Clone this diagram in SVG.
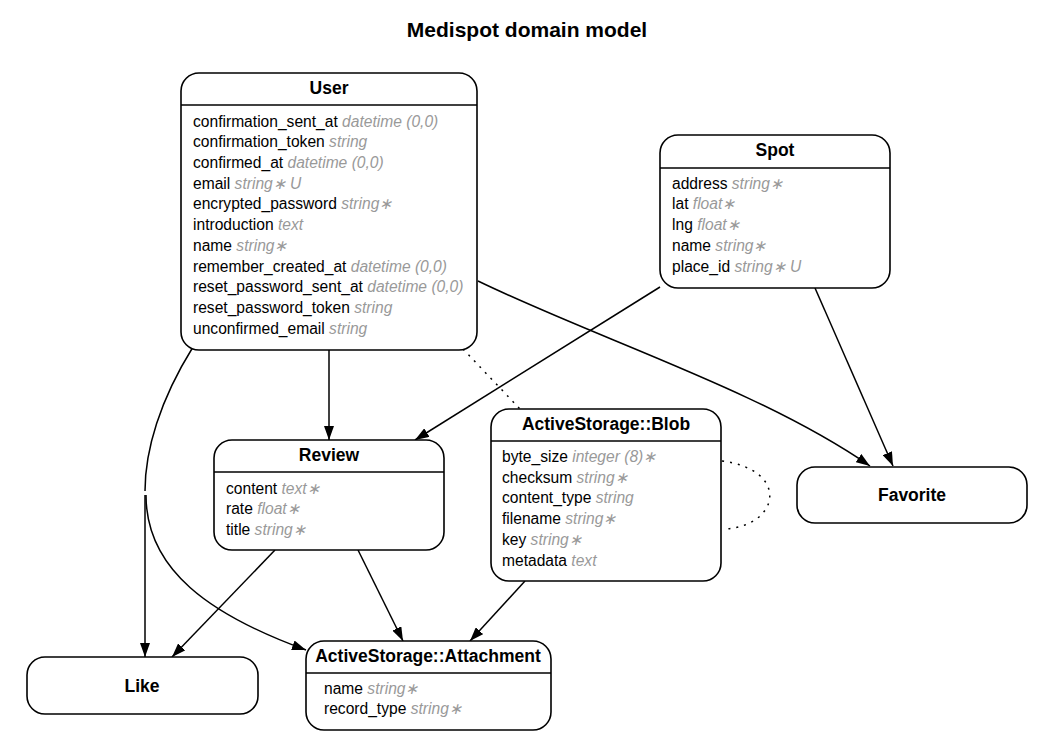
<svg xmlns="http://www.w3.org/2000/svg" width="1056" height="748" viewBox="0 0 1056 748">
<defs>
<style>
.box{fill:#fff;stroke:#000;stroke-width:1.6}
.sep{stroke:#000;stroke-width:1.3}
.ttl{font-family:"Liberation Sans",Arial,sans-serif;font-weight:bold;font-size:17.5px;text-anchor:middle;fill:#000}
.row{font-family:"Liberation Sans",Arial,sans-serif;font-size:15.6px;fill:#000}
.t{font-style:italic;fill:#999}
.e{fill:none;stroke:#000;stroke-width:1.5}
.d{fill:none;stroke:#000;stroke-width:1.5;stroke-dasharray:2 6}
</style>
<marker id="arr" viewBox="0 0 14 10" refX="14" refY="5" markerWidth="14" markerHeight="10" markerUnits="userSpaceOnUse" orient="auto">
<path d="M0,0 L14,5 L0,10 z" fill="#000"/>
</marker>
</defs>
<rect width="1056" height="748" fill="#fff"/>
<text x="527" y="37" class="ttl" style="font-size:21px">Medispot domain model</text>

<g id="connectors">
<path class="e" d="M329,350 L329,440" marker-end="url(#arr)"/>
<path class="e" d="M193,347 C160,400 145,450 145,491"/>
<path class="e" d="M145,495 L145,657" marker-end="url(#arr)"/>
<path class="e" d="M146,495 C146,570 210,615 306,650" marker-end="url(#arr)"/>
<path class="e" d="M478,281 C600,340 760,390 870,466" marker-end="url(#arr)"/>
<path class="e" d="M660,287 L415,440" marker-end="url(#arr)"/>
<path class="e" d="M815,288 L893,466" marker-end="url(#arr)"/>
<path class="d" d="M463,349 L520,409"/>
<path class="d" d="M722,461 C790,470 780,525 726,529"/>
<path class="e" d="M275,550 L172,657" marker-end="url(#arr)"/>
<path class="e" d="M358,550 L403,641" marker-end="url(#arr)"/>
<path class="e" d="M525,581 L470,641" marker-end="url(#arr)"/>
</g>

<g id="User">
<rect class="box" x="181" y="73" width="296" height="277" rx="18"/>
<line class="sep" x1="181" y1="105" x2="477" y2="105"/>
<text class="ttl" x="329" y="94">User</text>
<text class="row" x="193" y="127">confirmation_sent_at <tspan class="t">datetime (0,0)</tspan></text>
<text class="row" x="193" y="147">confirmation_token <tspan class="t">string</tspan></text>
<text class="row" x="193" y="168">confirmed_at <tspan class="t">datetime (0,0)</tspan></text>
<text class="row" x="193" y="189">email <tspan class="t">string∗ U</tspan></text>
<text class="row" x="193" y="209">encrypted_password <tspan class="t">string∗</tspan></text>
<text class="row" x="193" y="230">introduction <tspan class="t">text</tspan></text>
<text class="row" x="193" y="251">name <tspan class="t">string∗</tspan></text>
<text class="row" x="193" y="272">remember_created_at <tspan class="t">datetime (0,0)</tspan></text>
<text class="row" x="193" y="292">reset_password_sent_at <tspan class="t">datetime (0,0)</tspan></text>
<text class="row" x="193" y="313">reset_password_token <tspan class="t">string</tspan></text>
<text class="row" x="193" y="334">unconfirmed_email <tspan class="t">string</tspan></text>
</g>

<g id="Spot">
<rect class="box" x="660" y="135" width="230" height="153" rx="18"/>
<line class="sep" x1="660" y1="168" x2="890" y2="168"/>
<text class="ttl" x="775" y="156">Spot</text>
<text class="row" x="672" y="189">address <tspan class="t">string∗</tspan></text>
<text class="row" x="672" y="209">lat <tspan class="t">float∗</tspan></text>
<text class="row" x="672" y="230">lng <tspan class="t">float∗</tspan></text>
<text class="row" x="672" y="251">name <tspan class="t">string∗</tspan></text>
<text class="row" x="672" y="272">place_id <tspan class="t">string∗ U</tspan></text>
</g>

<g id="Review">
<rect class="box" x="214" y="440" width="230" height="110" rx="18"/>
<line class="sep" x1="214" y1="472" x2="444" y2="472"/>
<text class="ttl" x="329" y="461">Review</text>
<text class="row" x="226" y="494">content <tspan class="t">text∗</tspan></text>
<text class="row" x="226" y="514">rate <tspan class="t">float∗</tspan></text>
<text class="row" x="226" y="535">title <tspan class="t">string∗</tspan></text>
</g>

<g id="Blob">
<rect class="box" x="491" y="409" width="230" height="172" rx="18"/>
<line class="sep" x1="491" y1="441" x2="721" y2="441"/>
<text class="ttl" x="606" y="430">ActiveStorage::Blob</text>
<text class="row" x="502" y="462">byte_size <tspan class="t">integer (8)∗</tspan></text>
<text class="row" x="502" y="483">checksum <tspan class="t">string∗</tspan></text>
<text class="row" x="502" y="503">content_type <tspan class="t">string</tspan></text>
<text class="row" x="502" y="524">filename <tspan class="t">string∗</tspan></text>
<text class="row" x="502" y="545">key <tspan class="t">string∗</tspan></text>
<text class="row" x="502" y="566">metadata <tspan class="t">text</tspan></text>
</g>

<g id="Favorite">
<rect class="box" x="797" y="467" width="230" height="56" rx="18"/>
<text class="ttl" x="912" y="501">Favorite</text>
</g>

<g id="Like">
<rect class="box" x="27" y="657" width="231" height="57" rx="18"/>
<text class="ttl" x="142" y="692">Like</text>
</g>

<g id="Attachment">
<rect class="box" x="306" y="641" width="245" height="89" rx="18"/>
<line class="sep" x1="306" y1="673" x2="551" y2="673"/>
<text class="ttl" x="428" y="662">ActiveStorage::Attachment</text>
<text class="row" x="324" y="694">name <tspan class="t">string∗</tspan></text>
<text class="row" x="324" y="714">record_type <tspan class="t">string∗</tspan></text>
</g>
</svg>
